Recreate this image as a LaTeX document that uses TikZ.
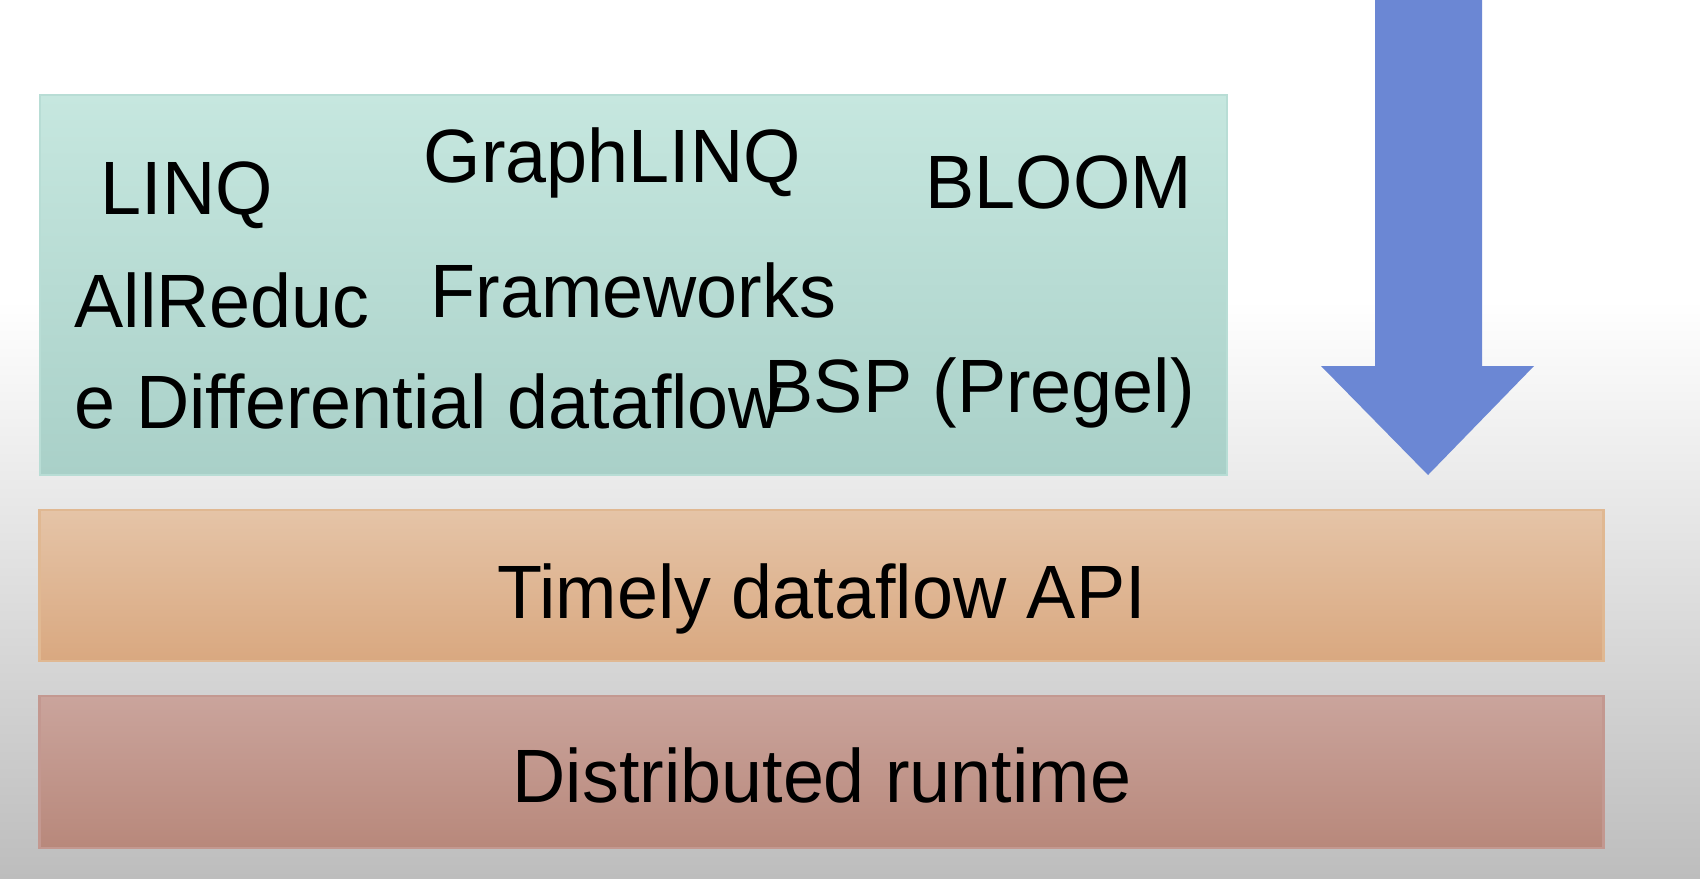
\documentclass[tikz,border=0pt]{standalone}
\usepackage{fontspec}
\setmainfont[FakeStretch=0.975]{Liberation Sans}
\usetikzlibrary{positioning}
\definecolor{tealtop}{HTML}{C6E7DF}
\definecolor{tealbot}{HTML}{A9D0C8}
\definecolor{tealrim}{HTML}{B8DDD5}
\definecolor{apitop}{HTML}{E5C4A7}
\definecolor{apibot}{HTML}{D9A880}
\definecolor{apirim}{HTML}{E0B892}
\definecolor{rttop}{HTML}{CAA49C}
\definecolor{rtbot}{HTML}{B8887B}
\definecolor{rtrim}{HTML}{C39890}
\definecolor{arrowblue}{HTML}{6B87D4}
\definecolor{bgbot}{HTML}{BDBDBD}
\tikzset{
  layer/.style n args={3}{rectangle, top color=#1, bottom color=#2, draw=#3, line width=0.6pt, inner sep=0pt},
  word/.style={font=\fontsize{21.5}{25}\selectfont, text=black, inner sep=0pt, anchor=base west},
  mid/.style={word, anchor=base},
}

\begin{document}
\begin{tikzpicture}[x=0.01cm, y=-0.01cm]
    \useasboundingbox (0,0) rectangle (1700,878);
    \fill[white] (0,0) rectangle (1700,300);
    \shade[top color=white, bottom color=bgbot] (0,300) rectangle (1700,878);
    % framework layer
    \node[layer={tealtop}{tealbot}{tealrim}, minimum width=11.87cm, minimum height=3.8cm] (fw) at (633.5,285) {};
    \node[word] (linq) at (100,214) {LINQ};
    \node[word] (glinq) at (423,182) {GraphLINQ};
    \node[word] (bloom) at (925,208) {BLOOM};
    \node[word] (allr) at (74,327) {AllReduc};
    \node[word] (frame) at (430,317) {Frameworks};
    \node[word] (diff) at (74,428) {e Differential dataflow};
    \node[word] (bsp) at (764,412) {BSP (Pregel)};
    % lower layers
    \node[layer={apitop}{apibot}{apirim}, minimum width=15.63cm, minimum height=1.51cm] (apibox) at (821.5,585.5) {};
    \node[mid] (api) at (821.5,618) {Timely dataflow API};
    \node[layer={rttop}{rtbot}{rtrim}, minimum width=15.63cm, minimum height=1.52cm] (rtbox) at (821.5,772) {};
    \node[mid] (rt) at (822,802) {Distributed runtime};
    % block arrow
    \fill[arrowblue] (1375,0) -- (1482,0) -- (1482,366) -- (1534,366) -- (1428,475)
      -- (1321,366) -- (1375,366) -- cycle;
  \end{tikzpicture}
\end{document}
